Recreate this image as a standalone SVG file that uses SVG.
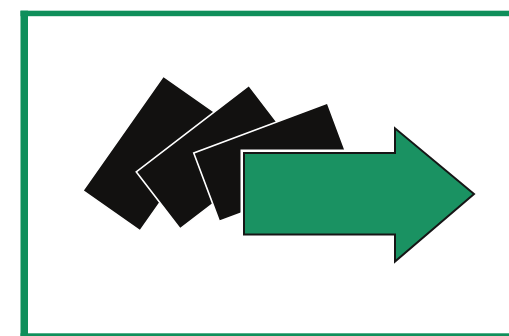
<svg xmlns="http://www.w3.org/2000/svg" width="509" height="336" viewBox="0 0 509 336">
  <style>
    .frame { fill: #0f8f5b; }
    .card { fill: #121110; stroke: #ffffff; stroke-width: 1.6; }
    .halo { fill: none; stroke: #ffffff; stroke-width: 7; stroke-linejoin: miter; }
    .arrow { fill: #1a9262; stroke: #161616; stroke-width: 2; stroke-linejoin: miter; }
  </style>
  <rect width="509" height="336" fill="#ffffff"/>
  <g id="frame">
    <rect class="frame" x="20.5" y="10.7" width="489" height="5.5"/>
    <rect class="frame" x="20.5" y="10.7" width="7.5" height="326"/>
    <rect class="frame" x="20.5" y="333.3" width="489" height="3"/>
  </g>
  <g id="card1">
    <rect class="card" x="-70" y="-35" width="140" height="70" transform="translate(151.7 153.5) rotate(-54.9)"/>
  </g>
  <g id="card2">
    <rect class="card" x="-71" y="-36" width="142" height="72" transform="translate(214.5 157.2) rotate(-37.5)"/>
  </g>
  <g id="card3">
    <rect class="card" x="-71.4" y="-36.5" width="142.8" height="73" transform="translate(273.4 162.2) rotate(-20.5)"/>
  </g>
  <g id="arrow">
    <path class="halo" d="M244 153 L395 153 L395 128.3 L474 194 L395 261.5 L395 234.5 L244 234.5 Z"/>
    <path class="arrow" d="M244 153 L395 153 L395 128.3 L474 194 L395 261.5 L395 234.5 L244 234.5 Z"/>
  </g>
</svg>
